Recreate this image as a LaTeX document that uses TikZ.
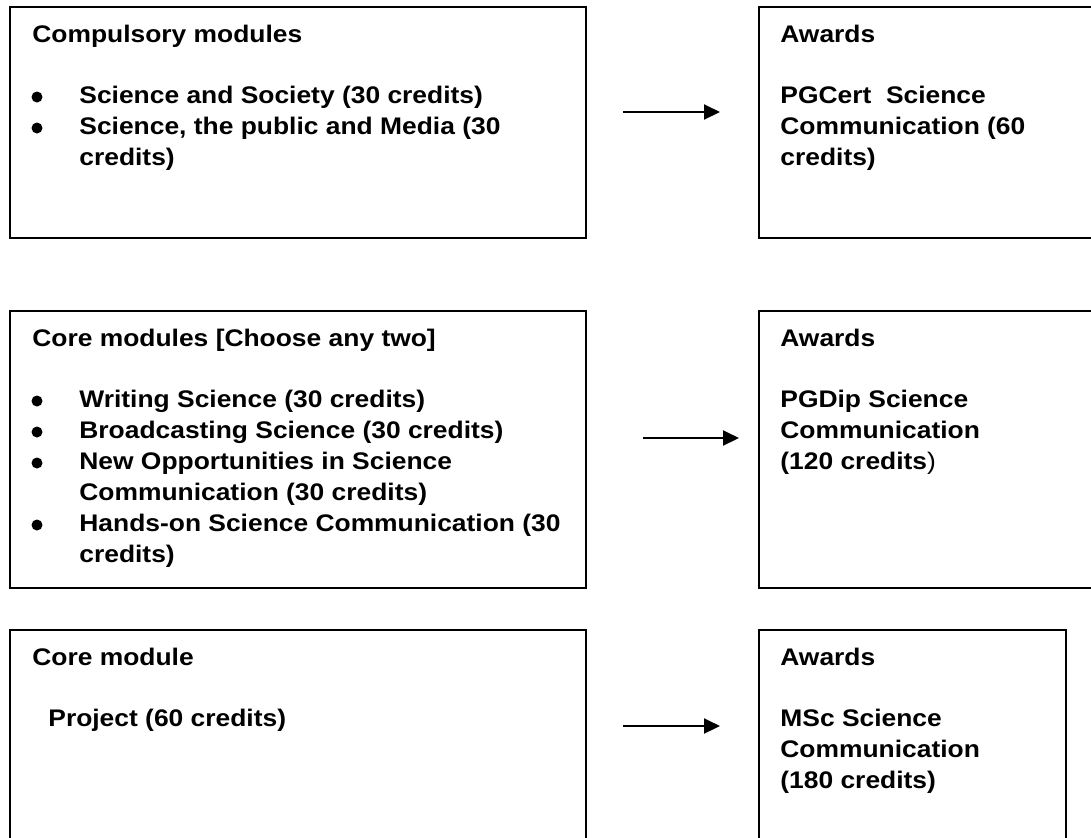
\documentclass[tikz,border=0pt]{standalone}
\usepackage{fontspec}
\setmainfont{Liberation Sans}[FakeStretch=1.1]
\usetikzlibrary{arrows.meta}

\tikzset{
  panel/.style={line width=1pt},
  head/.style={anchor=north west, inner sep=0pt, font=\bfseries\fontsize{12}{15.5}\selectfont},
  body/.style={head, align=left},
  dot/.style={circle, fill, inner sep=0pt, minimum size=5.5pt},
  arr/.style={line width=1pt, -{Triangle[length=8pt,width=7.5pt]}},
}

\begin{document}
\begin{tikzpicture}[x=0.5pt, y=-0.5pt]
    \useasboundingbox (0,0) rectangle (1091,837);
    \clip (0,0) rectangle (1091,837);

    % box corners
    \coordinate (C1) at (10,7);
    \coordinate (C2) at (10,311);
    \coordinate (C3) at (10,630);
    \coordinate (A1) at (759,7);
    \coordinate (A2) at (759,311);
    \coordinate (A3) at (759,630);

    \draw[panel] (C1) rectangle (586,238);
    \draw[panel] (C2) rectangle (586,588);
    \draw[panel] (C3) rectangle (586,860);
    \draw[panel] (A1) rectangle (1110,238);
    \draw[panel] (A2) rectangle (1110,588);
    \draw[panel] (A3) rectangle (1066,860);

    % left column
    \node[head] (c1title) at ([shift={(22,18)}]C1) {Compulsory modules};
    \node[body] (c1list) at ([shift={(69,79)}]C1)
        {Science and Society (30 credits)\\Science, the public and Media (30\\credits)};
    \node[dot] (c1b1) at ([shift={(27,90)}]C1) {};
    \node[dot] (c1b2) at ([shift={(27,121)}]C1) {};

    \node[head] (c2title) at ([shift={(22,18)}]C2) {Core modules [Choose any two]};
    \node[body] (c2list) at ([shift={(69,79)}]C2)
        {Writing Science (30 credits)\\Broadcasting Science (30 credits)\\New Opportunities in Science\\Communication (30 credits)\\Hands-on Science Communication (30\\credits)};
    \node[dot] (c2b1) at ([shift={(27,90)}]C2) {};
    \node[dot] (c2b2) at ([shift={(27,121)}]C2) {};
    \node[dot] (c2b3) at ([shift={(27,152)}]C2) {};
    \node[dot] (c2b4) at ([shift={(27,214)}]C2) {};

    \node[head] (c3title) at ([shift={(22,18)}]C3) {Core module};
    \node[head] (c3list) at ([shift={(38,79)}]C3) {Project (60 credits)};

    % right column
    \node[head] (a1title) at ([shift={(21,18)}]A1) {Awards};
    \node[body] (a1text) at ([shift={(21,79)}]A1)
        {PGCert\ \ Science\\Communication (60\\credits)};

    \node[head] (a2title) at ([shift={(21,18)}]A2) {Awards};
    \node[body] (a2text) at ([shift={(21,79)}]A2)
        {PGDip Science\\Communication\\(120 credits{\mdseries)}};

    \node[head] (a3title) at ([shift={(21,18)}]A3) {Awards};
    \node[body] (a3text) at ([shift={(21,79)}]A3)
        {MSc Science\\Communication\\(180 credits)};

    % arrows
    \coordinate (p1) at (623,112);
    \coordinate (q1) at (720,112);
    \coordinate (p2) at (643,438);
    \coordinate (q2) at (739,438);
    \coordinate (p3) at (623,726);
    \coordinate (q3) at (720,726);
    \draw[arr] (p1) -- (q1);
    \draw[arr] (p2) -- (q2);
    \draw[arr] (p3) -- (q3);
\end{tikzpicture}
\end{document}
